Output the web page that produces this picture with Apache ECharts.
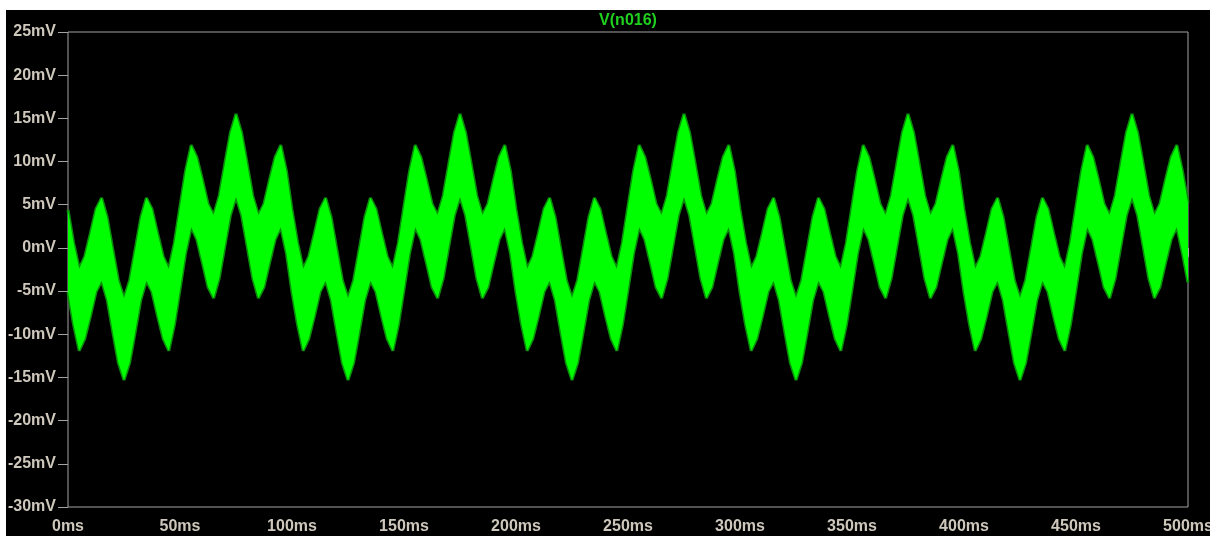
<!DOCTYPE html>
<html>
<head>
<meta charset="utf-8">
<script src="https://cdn.jsdelivr.net/npm/echarts@6/dist/echarts.min.js"></script>
<style>
  html, body { margin: 0; padding: 0; background: #ffffff; width: 1210px; height: 536px; overflow: hidden; }
  #chart { position: absolute; left: 6px; top: 10px; width: 1204px; height: 526px; background: #000000; }
</style>
</head>
<body>
<div id="chart"></div>
<script>
// Transient trace of node n016: time in ms, upper / lower envelope of the ripple band in mV
const timeMs = [
  0, 2.5, 5, 7.5, 10, 12.5, 15, 17.5, 20, 22.5, 25, 27.5, 30, 32.5, 35, 37.5, 40, 42.5, 45, 47.5,
  50, 52.5, 55, 57.5, 60, 62.5, 65, 67.5, 70, 72.5, 75, 77.5, 80, 82.5, 85, 87.5, 90, 92.5, 95, 97.5,
  100, 102.5, 105, 107.5, 110, 112.5, 115, 117.5, 120, 122.5, 125, 127.5, 130, 132.5, 135, 137.5, 140, 142.5, 145, 147.5,
  150, 152.5, 155, 157.5, 160, 162.5, 165, 167.5, 170, 172.5, 175, 177.5, 180, 182.5, 185, 187.5, 190, 192.5, 195, 197.5,
  200, 202.5, 205, 207.5, 210, 212.5, 215, 217.5, 220, 222.5, 225, 227.5, 230, 232.5, 235, 237.5, 240, 242.5, 245, 247.5,
  250, 252.5, 255, 257.5, 260, 262.5, 265, 267.5, 270, 272.5, 275, 277.5, 280, 282.5, 285, 287.5, 290, 292.5, 295, 297.5,
  300, 302.5, 305, 307.5, 310, 312.5, 315, 317.5, 320, 322.5, 325, 327.5, 330, 332.5, 335, 337.5, 340, 342.5, 345, 347.5,
  350, 352.5, 355, 357.5, 360, 362.5, 365, 367.5, 370, 372.5, 375, 377.5, 380, 382.5, 385, 387.5, 390, 392.5, 395, 397.5,
  400, 402.5, 405, 407.5, 410, 412.5, 415, 417.5, 420, 422.5, 425, 427.5, 430, 432.5, 435, 437.5, 440, 442.5, 445, 447.5,
  450, 452.5, 455, 457.5, 460, 462.5, 465, 467.5, 470, 472.5, 475, 477.5, 480, 482.5, 485, 487.5, 490, 492.5, 495, 497.5,
  500
];
const upperMv = [
  4.4, 0.6, -2.4, -1.0, 1.7, 4.5, 5.8, 3.5, -0.2, -3.8, -5.8, -3.8, -0.2, 3.5, 5.8, 4.5, 1.7, -1.0, -2.4, 0.6,
  4.8, 8.9, 11.9, 10.5, 7.9, 5.1, 3.8, 6.0, 9.7, 13.3, 15.5, 13.3, 9.7, 6.0, 3.8, 5.1, 7.9, 10.5, 11.9, 8.9,
  4.4, 0.6, -2.4, -1.0, 1.7, 4.5, 5.8, 3.5, -0.2, -3.8, -5.8, -3.8, -0.2, 3.5, 5.8, 4.5, 1.7, -1.0, -2.4, 0.6,
  4.8, 8.9, 11.9, 10.5, 7.9, 5.1, 3.8, 6.0, 9.7, 13.3, 15.5, 13.3, 9.7, 6.0, 3.8, 5.1, 7.9, 10.5, 11.9, 8.9,
  4.4, 0.6, -2.4, -1.0, 1.7, 4.5, 5.8, 3.5, -0.2, -3.8, -5.8, -3.8, -0.2, 3.5, 5.8, 4.5, 1.7, -1.0, -2.4, 0.6,
  4.8, 8.9, 11.9, 10.5, 7.9, 5.1, 3.8, 6.0, 9.7, 13.3, 15.5, 13.3, 9.7, 6.0, 3.8, 5.1, 7.9, 10.5, 11.9, 8.9,
  4.4, 0.6, -2.4, -1.0, 1.7, 4.5, 5.8, 3.5, -0.2, -3.8, -5.8, -3.8, -0.2, 3.5, 5.8, 4.5, 1.7, -1.0, -2.4, 0.6,
  4.8, 8.9, 11.9, 10.5, 7.9, 5.1, 3.8, 6.0, 9.7, 13.3, 15.5, 13.3, 9.7, 6.0, 3.8, 5.1, 7.9, 10.5, 11.9, 8.9,
  4.4, 0.6, -2.4, -1.0, 1.7, 4.5, 5.8, 3.5, -0.2, -3.8, -5.8, -3.8, -0.2, 3.5, 5.8, 4.5, 1.7, -1.0, -2.4, 0.6,
  4.8, 8.9, 11.9, 10.5, 7.9, 5.1, 3.8, 6.0, 9.7, 13.3, 15.5, 13.3, 9.7, 6.0, 3.8, 5.1, 7.9, 10.5, 11.9, 8.9,
  5.2
];
const lowerMv = [
  -5.1, -8.9, -11.9, -10.5, -7.9, -5.1, -3.8, -6.0, -9.7, -13.3, -15.3, -13.3, -9.7, -6.0, -3.8, -5.1, -7.9, -10.5, -11.9, -8.9,
  -4.8, -0.6, 2.4, 1.0, -1.7, -4.5, -5.8, -3.5, 0.2, 3.8, 5.9, 3.8, 0.2, -3.5, -5.8, -4.5, -1.7, 1.0, 2.4, -0.6,
  -5.1, -8.9, -11.9, -10.5, -7.9, -5.1, -3.8, -6.0, -9.7, -13.3, -15.3, -13.3, -9.7, -6.0, -3.8, -5.1, -7.9, -10.5, -11.9, -8.9,
  -4.8, -0.6, 2.4, 1.0, -1.7, -4.5, -5.8, -3.5, 0.2, 3.8, 5.9, 3.8, 0.2, -3.5, -5.8, -4.5, -1.7, 1.0, 2.4, -0.6,
  -5.1, -8.9, -11.9, -10.5, -7.9, -5.1, -3.8, -6.0, -9.7, -13.3, -15.3, -13.3, -9.7, -6.0, -3.8, -5.1, -7.9, -10.5, -11.9, -8.9,
  -4.8, -0.6, 2.4, 1.0, -1.7, -4.5, -5.8, -3.5, 0.2, 3.8, 5.9, 3.8, 0.2, -3.5, -5.8, -4.5, -1.7, 1.0, 2.4, -0.6,
  -5.1, -8.9, -11.9, -10.5, -7.9, -5.1, -3.8, -6.0, -9.7, -13.3, -15.3, -13.3, -9.7, -6.0, -3.8, -5.1, -7.9, -10.5, -11.9, -8.9,
  -4.8, -0.6, 2.4, 1.0, -1.7, -4.5, -5.8, -3.5, 0.2, 3.8, 5.9, 3.8, 0.2, -3.5, -5.8, -4.5, -1.7, 1.0, 2.4, -0.6,
  -5.1, -8.9, -11.9, -10.5, -7.9, -5.1, -3.8, -6.0, -9.7, -13.3, -15.3, -13.3, -9.7, -6.0, -3.8, -5.1, -7.9, -10.5, -11.9, -8.9,
  -4.8, -0.6, 2.4, 1.0, -1.7, -4.5, -5.8, -3.5, 0.2, 3.8, 5.9, 3.8, 0.2, -3.5, -5.8, -4.5, -1.7, 1.0, 2.4, -0.6,
  -4.0
];
const traceName = 'V(n016)';

const AXIS_GREY = '#a4a4a4';
const LABEL_COLOR = '#cec7bc';
const TRACE_GREEN = '#00ff00';
const TRACE_DARK = '#0a8f0a';
const FONT = '"Liberation Sans", Arial, sans-serif';

const chart = echarts.init(document.getElementById('chart'), null, { renderer: 'canvas' });

const pairs = arr => arr.map((v, i) => [timeMs[i], v]);

chart.setOption({
  backgroundColor: '#000000',
  animation: false,
  title: {
    text: traceName,
    left: 617,
    top: -2,
    textAlign: 'center',
    textStyle: { color: '#1fd01f', fontFamily: FONT, fontWeight: 'bold', fontSize: 16 }
  },
  grid: {
    left: 62, right: 22, top: 22, bottom: 29,
    outerBoundsMode: 'none',
    containLabel: false,
    show: true, borderColor: AXIS_GREY, borderWidth: 1, backgroundColor: 'transparent'
  },
  xAxis: {
    type: 'value', min: 0, max: 500, interval: 50,
    axisLine: { show: false },
    axisTick: { show: true, length: 9, lineStyle: { color: AXIS_GREY, width: 1 } },
    splitLine: { show: false },
    axisLabel: {
      color: LABEL_COLOR, fontFamily: FONT, fontWeight: 'bold', fontSize: 16, margin: 12,
      formatter: v => v + 'ms', showMinLabel: true, showMaxLabel: true
    }
  },
  yAxis: {
    type: 'value', min: -30, max: 25, interval: 5,
    axisLine: { show: false },
    axisTick: { show: true, length: 10, lineStyle: { color: AXIS_GREY, width: 1 } },
    splitLine: { show: false },
    axisLabel: {
      color: LABEL_COLOR, fontFamily: FONT, fontWeight: 'bold', fontSize: 16, margin: 12,
      formatter: v => v + 'mV', showMinLabel: true, showMaxLabel: true
    }
  },
  series: [
    {
      // dark rim along the outer edges of the ripple band
      type: 'line', data: pairs(upperMv), showSymbol: false, z: 1,
      lineStyle: { color: TRACE_DARK, width: 3 }, silent: true
    },
    {
      type: 'line', data: pairs(lowerMv), showSymbol: false, z: 1,
      lineStyle: { color: TRACE_DARK, width: 3 }, silent: true
    },
    {
      // filled band between the envelopes
      type: 'custom', coordinateSystem: 'cartesian2d', clip: true, z: 2,
      data: [[0, 0]],
      encode: { x: 0, y: 1 },
      renderItem: function (params, api) {
        const pts = [];
        for (let i = 0; i < timeMs.length; i++) pts.push(api.coord([timeMs[i], upperMv[i]]));
        for (let i = timeMs.length - 1; i >= 0; i--) pts.push(api.coord([timeMs[i], lowerMv[i]]));
        return { type: 'polygon', shape: { points: pts }, style: { fill: TRACE_GREEN, stroke: null } };
      },
      silent: true
    }
  ]
});
</script>
</body>
</html>
